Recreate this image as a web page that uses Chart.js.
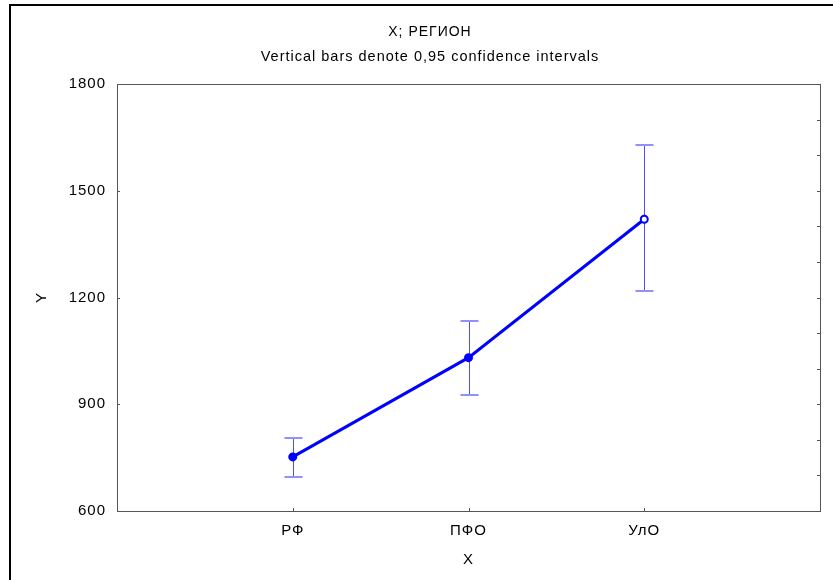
<!DOCTYPE html>
<html>
<head>
<meta charset="utf-8">
<script src="https://cdn.jsdelivr.net/npm/chart.js@4"></script>
<style>
  html, body { margin: 0; padding: 0; background: #fff; }
  #wrap { position: relative; width: 833px; height: 580px; overflow: hidden; }
  #frame { position: absolute; left: 9px; top: 4px; right: -10px; bottom: -10px;
           border-left: 2px solid #000; border-top: 2px solid #000; }
  #chart { position: absolute; left: 0; top: 0; }
</style>
</head>
<body>
<div id="wrap">
  <div id="frame"></div>
  <canvas id="chart" width="833" height="580"></canvas>
</div>
<script>
const categories = ['РФ', 'ПФО', 'УлО'];
const means = [752, 1031, 1420];
const lower = [696, 925, 1218];
const upper = [806, 1135, 1629];
const yTicks = [600, 900, 1200, 1500, 1800];

const FONT = 'Liberation Sans, Arial, sans-serif';

// statistica-style spaced text
const spacing = {
  id: 'spacing',
  afterInit(chart) { chart.ctx.letterSpacing = '1px'; },
  beforeUpdate(chart) { chart.ctx.letterSpacing = '1px'; },
  beforeDraw(chart) { chart.ctx.letterSpacing = '1px'; }
};

// plot frame and inward tick marks
const frame = {
  id: 'frame',
  afterDraw(chart) {
    const { ctx, chartArea: a, scales: { x, y } } = chart;
    ctx.save();
    ctx.strokeStyle = '#555';
    ctx.lineWidth = 1;
    ctx.strokeRect(Math.round(a.left) + 0.5, Math.round(a.top) + 0.5,
                   Math.round(a.right - a.left), Math.round(a.bottom - a.top));
    ctx.beginPath();
    yTicks.slice(1, -1).forEach(v => {
      const py = Math.round(y.getPixelForValue(v)) + 0.5;
      ctx.moveTo(a.left, py); ctx.lineTo(a.left + 3, py);
    });
    for (let v = 700; v < 1800; v += 100) {
      const py = Math.round(y.getPixelForValue(v)) + 0.5;
      ctx.moveTo(a.right, py); ctx.lineTo(a.right - 3, py);
    }
    categories.forEach((c, i) => {
      const px = Math.round(x.getPixelForValue(i + 1)) + 0.5;
      ctx.moveTo(px, a.bottom); ctx.lineTo(px, a.bottom - 3);
    });
    ctx.stroke();
    ctx.restore();
  }
};

// confidence interval whiskers
const whiskers = {
  id: 'whiskers',
  beforeDatasetsDraw(chart) {
    const { ctx, scales: { x, y } } = chart;
    ctx.save();
    categories.forEach((c, i) => {
      const px = Math.round(x.getPixelForValue(i + 1)) + 0.5;
      const yl = Math.round(y.getPixelForValue(lower[i]));
      const yh = Math.round(y.getPixelForValue(upper[i]));
      ctx.strokeStyle = '#4d4dff';
      ctx.lineWidth = 1;
      ctx.beginPath();
      ctx.moveTo(px, yl); ctx.lineTo(px, yh);
      ctx.stroke();
      ctx.strokeStyle = '#9090ff';
      ctx.lineWidth = 2;
      ctx.beginPath();
      ctx.moveTo(px - 9, yl); ctx.lineTo(px + 9, yl);
      ctx.moveTo(px - 9, yh); ctx.lineTo(px + 9, yh);
      ctx.stroke();
    });
    ctx.restore();
  }
};

new Chart(document.getElementById('chart'), {
  type: 'line',
  data: {
    datasets: [{
      data: means.map((m, i) => ({ x: i + 1, y: m })),
      borderColor: '#0000ff',
      borderWidth: 3,
      pointRadius: 3.5,
      pointBorderWidth: 2,
      pointBorderColor: '#0000ff',
      pointBackgroundColor: ['#0000ff', '#0000ff', '#ffffff'],
      tension: 0
    }]
  },
  options: {
    responsive: false,
    animation: false,
    events: [],
    layout: { padding: { left: 40, right: 13, top: 0, bottom: 0 } },
    plugins: {
      legend: { display: false },
      tooltip: { enabled: false },
      title: {
        display: true,
        text: 'X; РЕГИОН',
        color: '#000',
        font: { family: FONT, size: 14, weight: 'normal' },
        padding: { top: 24, bottom: 0 }
      },
      subtitle: {
        display: true,
        text: 'Vertical bars denote 0,95 confidence intervals',
        color: '#000',
        font: { family: FONT, size: 14.5, weight: 'normal' },
        padding: { top: 7.5, bottom: 18.3 }
      }
    },
    scales: {
      x: {
        type: 'linear',
        min: 0,
        max: 4,
        afterFit(scale) { scale.height = 69; },
        afterBuildTicks(scale) {
          scale.ticks = categories.map((c, i) => ({ value: i + 1 }));
        },
        ticks: {
          autoSkip: false,
          maxRotation: 0,
          padding: 11,
          color: '#000',
          font: { family: FONT, size: 15 },
          callback: v => categories[v - 1] || ''
        },
        grid: { display: false, drawTicks: false },
        border: { display: false },
        title: {
          display: true,
          text: 'X',
          color: '#000',
          font: { family: FONT, size: 15 },
          padding: { top: 4, bottom: 11 }
        }
      },
      y: {
        min: 600,
        max: 1800,
        afterFit(scale) { scale.width = 77; },
        afterBuildTicks(scale) {
          scale.ticks = yTicks.map(v => ({ value: v }));
        },
        ticks: {
          padding: 11,
          color: '#000',
          font: { family: FONT, size: 15 },
          callback: v => String(v)
        },
        grid: { display: false, drawTicks: false },
        border: { display: false },
        title: {
          display: true,
          text: 'Y',
          color: '#000',
          font: { family: FONT, size: 15 },
          padding: { top: -7, bottom: 0 }
        }
      }
    }
  },
  plugins: [spacing, whiskers, frame]
});
</script>
</body>
</html>
